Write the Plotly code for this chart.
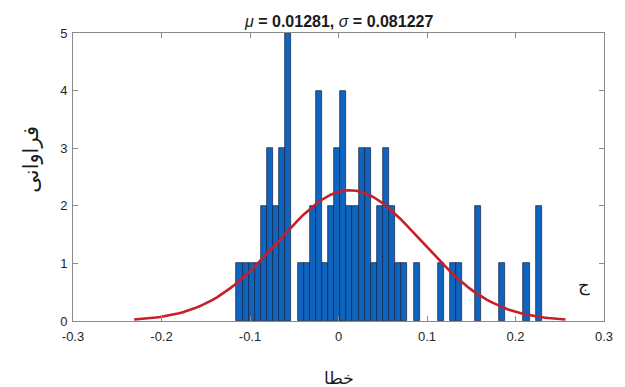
import numpy as np
import plotly.graph_objects as go

# Histogram of the error values (50 equal-width bins)
bin_start = -0.1153
bin_width = 0.00690
counts = [1, 1, 1, 1, 2, 3, 2, 3, 5, 0,
          1, 1, 2, 4, 1, 2, 3, 4, 2, 2,
          3, 3, 1, 2, 3, 2, 1, 1, 0, 1,
          0, 0, 0, 1, 0, 1, 1, 0, 0, 2,
          0, 0, 0, 1, 0, 0, 0, 1, 0, 2]

# Fitted normal distribution parameters
mu = 0.01281
sigma = 0.081227

x_ticks = [-0.3, -0.2, -0.1, 0, 0.1, 0.2, 0.3]
x_tick_text = ["-0.3", "-0.2", "-0.1", "0", "0.1", "0.2", "0.3"]
y_ticks = [0, 1, 2, 3, 4, 5]

centers = [bin_start + (i + 0.5) * bin_width for i in range(len(counts))]
bx = [c for c, n in zip(centers, counts) if n > 0]
by = [n for n in counts if n > 0]

# Normal pdf scaled to histogram counts over mu +/- 3 sigma
n_total = sum(counts)
xf = np.linspace(mu - 3 * sigma, mu + 3 * sigma, 100)
yf = n_total * bin_width * np.exp(-0.5 * ((xf - mu) / sigma) ** 2) / (sigma * np.sqrt(2 * np.pi))

fig = go.Figure()
fig.add_trace(go.Bar(
    x=bx, y=by, width=bin_width,
    marker=dict(color="rgb(14,100,190)", line=dict(color="#15233f", width=0.7)),
    showlegend=False,
))
fig.add_trace(go.Scatter(
    x=xf, y=yf, mode="lines",
    line=dict(color="#c81e2a", width=2.6),
    showlegend=False,
))

axis_common = dict(
    showline=True, linecolor="#8a8a8a", linewidth=1, mirror="ticks",
    ticks="inside", ticklen=5, tickcolor="#8a8a8a", tickwidth=1,
    showgrid=False, zeroline=False,
    tickfont=dict(family="Liberation Sans, Arial, sans-serif", size=13, color="#262626"),
)

fig.update_xaxes(range=[-0.3, 0.3], tickvals=x_ticks, ticktext=x_tick_text,
                 ticklabelstandoff=3, **axis_common)
fig.update_yaxes(range=[0, 5], tickvals=y_ticks, ticklabelstandoff=2, **axis_common)

fig.update_layout(
    width=625, height=387, autosize=False,
    margin=dict(l=73, r=15, t=33, b=66),
    plot_bgcolor="white", paper_bgcolor="white",
    bargap=0,
    annotations=[
        dict(text="<i>μ</i><b> = 0.01281, </b><i>σ</i><b> = 0.081227</b>",
             xref="paper", yref="paper", x=0.5, y=1, yanchor="bottom", yshift=1,
             showarrow=False,
             font=dict(family="Liberation Sans, Arial, sans-serif", size=16, color="#1a1a1a")),
        dict(text="خطا", xref="paper", yref="paper", x=0.5, y=0, yanchor="middle",
             yshift=-57, showarrow=False,
             font=dict(family="DejaVu Sans, serif", size=17, color="#1a1a1a")),
        dict(text="فراوانی", xref="paper", yref="paper", x=0, y=0.56, xanchor="center",
             xshift=-42, textangle=-90, showarrow=False,
             font=dict(family="DejaVu Sans, serif", size=21, color="#1a1a1a")),
        dict(text="ج", xref="paper", yref="paper", x=0.978, y=0.08, showarrow=False,
             font=dict(family="DejaVu Sans, serif", size=18, color="#1a1a1a")),
    ],
)

fig.write_html("out.html")
